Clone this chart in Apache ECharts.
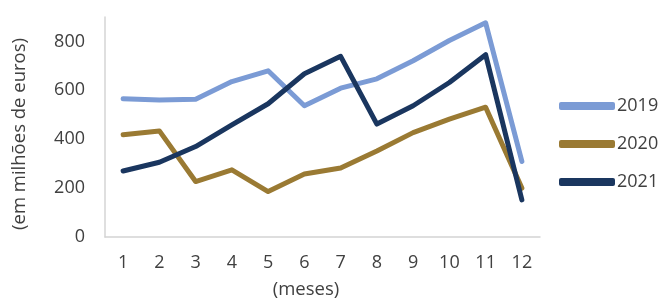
<!DOCTYPE html>
<html>
<head>
<meta charset="utf-8">
<script src="https://cdn.jsdelivr.net/npm/echarts@6/dist/echarts.min.js"></script>
<style>html,body{margin:0;padding:0;background:#fff}#c{width:658px;height:300px}</style>
</head>
<body>
<div id="c"></div>
<script>
const categories = ['1','2','3','4','5','6','7','8','9','10','11','12'];
const s2019 = [566, 560, 564, 636, 680, 537, 609, 647, 721, 804, 876, 309];
const s2020 = [418, 434, 227, 275, 186, 258, 282, 352, 427, 482, 531, 200];
const s2021 = [270, 306, 370, 459, 545, 668, 739, 462, 537, 632, 746, 152];
const seriesNames = ['2019', '2020', '2021'];
const colors = ['#7B9BD5', '#9A7A33', '#1A365F'];
const yTicks = [0, 200, 400, 600, 800];

const font = '"Open Sans", "Noto Sans", sans-serif';
const chart = echarts.init(document.getElementById('c'));
const mk = (name, data, color) => ({
  name, type: 'line', data, showSymbol: false, symbol: 'none',
  lineStyle: { width: 5, color, cap: 'round', join: 'round' },
  itemStyle: { color }, animation: false
});
chart.setOption({
  animation: false,
  color: colors,
  grid: { left: 105, right: 118, top: 17, bottom: 63 },
  xAxis: {
    type: 'category', data: categories, boundaryGap: true,
    axisLine: { lineStyle: { color: '#d4d4d4', width: 1.5 } },
    axisTick: { show: false },
    axisLabel: { color: '#404040', fontSize: 18, fontFamily: font, margin: 17 }
  },
  yAxis: {
    type: 'value', min: 0, max: 900, interval: 200,
    axisLine: { show: true, lineStyle: { color: '#d4d4d4', width: 1.5 } },
    axisTick: { show: false },
    splitLine: { show: false },
    axisLabel: { color: '#404040', fontSize: 18, fontFamily: font, margin: 20,
      showMaxLabel: false,
      formatter: v => yTicks.includes(v) ? String(v) : '' }
  },
  legend: {
    orient: 'vertical', left: 554, top: 92, itemGap: 20,
    itemWidth: 56, itemHeight: 8, icon: 'roundRect',
    textStyle: { color: '#404040', fontSize: 18, fontFamily: font, padding: [0, 0, 0, -3] },
    data: seriesNames
  },
  graphic: [
    { type: 'text',
      style: { text: '(em milhões de euros)', fill: '#404040', font: '18.5px ' + font, textAlign: 'center', textVerticalAlign: 'middle' },
      x: 20, y: 134, rotation: Math.PI / 2 },
    { type: 'text', style: { text: '(meses)', fill: '#404040', font: '18.5px ' + font, textAlign: 'center', textVerticalAlign: 'middle' },
      x: 306, y: 290 }
  ],
  series: [mk(seriesNames[0], s2019, colors[0]), mk(seriesNames[1], s2020, colors[1]), mk(seriesNames[2], s2021, colors[2])]
});
</script>
</body>
</html>
